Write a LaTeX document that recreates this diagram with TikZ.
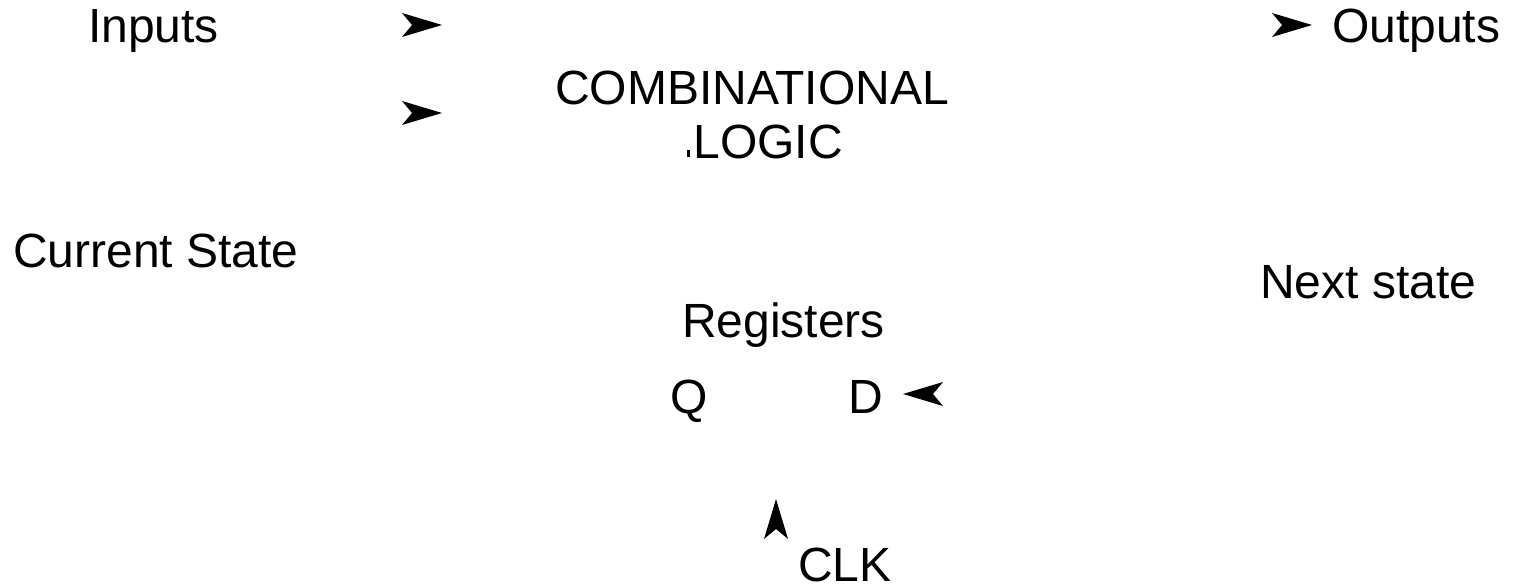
\documentclass[tikz,border=0pt]{standalone}
\usepackage{fontspec}
\setmainfont{Liberation Sans}
\usetikzlibrary{calc}
\tikzset{
  lbl/.style={inner sep=0pt, outer sep=0pt, anchor=base west, font=\fontsize{24}{28}\selectfont},
  lblc/.style={lbl, anchor=base},
  tiphead/.style={fill=black, draw=none}
}
\newcommand\headR[1]{\fill[tiphead] (#1) -- ($(#1)+(-40,-12)$) -- ($(#1)+(-30,0)$) -- ($(#1)+(-40,12)$) -- cycle;}
\newcommand\headL[1]{\fill[tiphead] (#1) -- ($(#1)+(40,-12)$) -- ($(#1)+(30,0)$) -- ($(#1)+(40,12)$) -- cycle;}
\newcommand\headU[1]{\fill[tiphead] (#1) -- ($(#1)+(-12,40)$) -- ($(#1)+(0,30)$) -- ($(#1)+(12,40)$) -- cycle;}
\begin{document}
\begin{tikzpicture}[x=0.5pt,y=-0.5pt]
\useasboundingbox (0,0) rectangle (1514,588);
% texts
\node[lbl] (inputs) at (88,43) {Inputs};
\node[lblc] (comb) at (752,105) {COMBINATIONAL};
\node[lblc] (logic) at (768,159) {LOGIC};
\node[lbl] (outputs) at (1332,43) {Outputs};
\node[lbl] (cur) at (13,268) {Current State};
\node[lbl] (next) at (1260,299) {Next state};
\node[lbl] (reg) at (682,337) {Registers};
\node[lbl] (q) at (670,413) {Q};
\node[lbl] (d) at (848,413) {D};
\node[lbl] (clk) at (798,581) {CLK};
% arrow tips
\coordinate (t1) at (442,25);
\coordinate (t2) at (442,113);
\coordinate (t3) at (1312,25);
\coordinate (t4) at (903,394);
\coordinate (t5) at (776,499);
\headR{t1}
\headR{t2}
\headR{t3}
\headL{t4}
\headU{t5}
% small mark
\fill (687,150) rectangle (690,157);
\end{tikzpicture}
\end{document}
